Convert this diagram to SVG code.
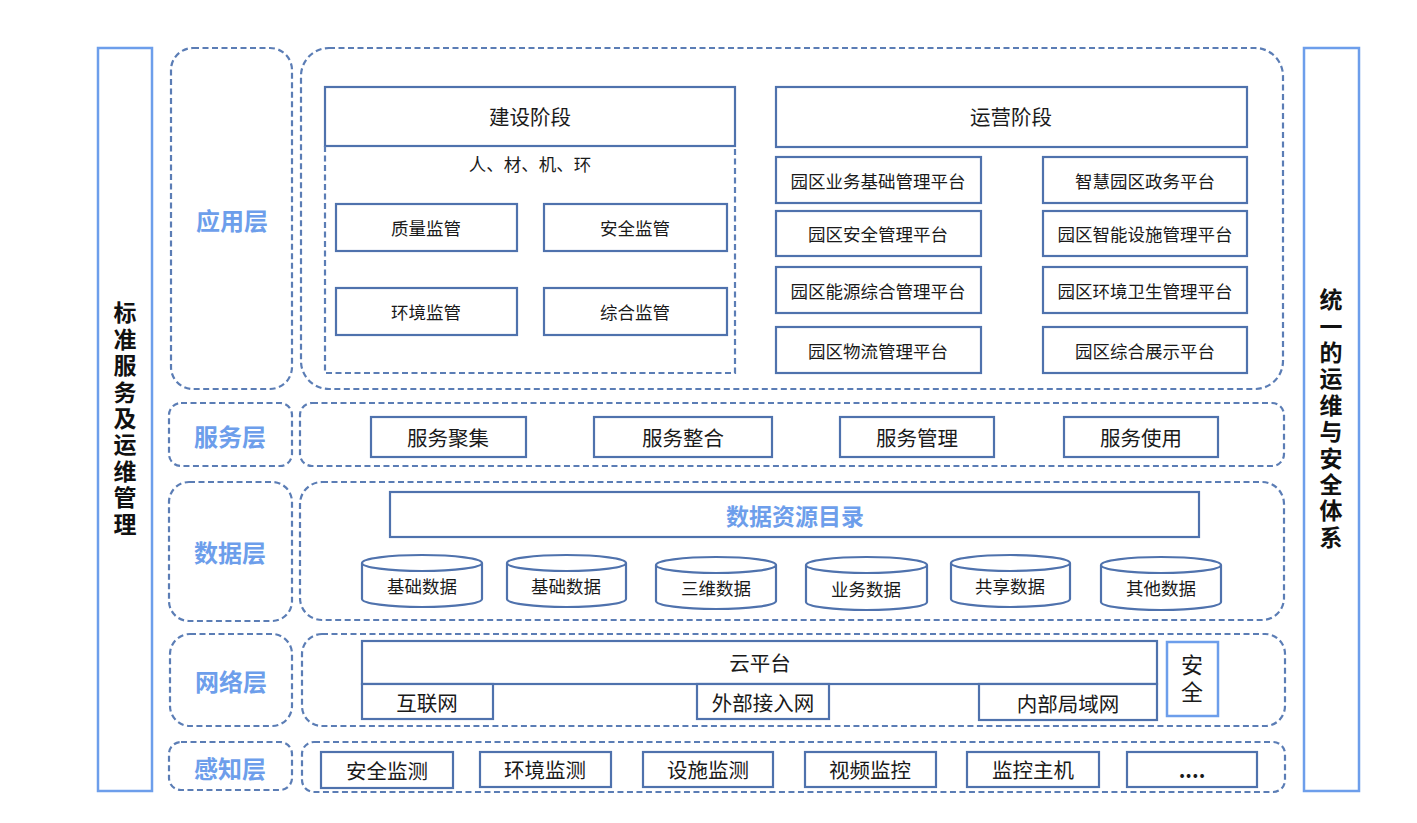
<svg xmlns="http://www.w3.org/2000/svg" width="1417" height="823" viewBox="0 0 1417 823">
<style>
.bg{fill:#ffffff}
.side{fill:#fff;stroke:#6d9eeb;stroke-width:2.5}
.dash{fill:none;stroke:#5b7db5;stroke-width:2.2;stroke-dasharray:6 3.5}
.box{fill:#fff;stroke:#4f72ad;stroke-width:2.2}
.lbox{fill:#fff;stroke:#6d9eeb;stroke-width:2.5}
.t{font-family:"Noto Sans CJK SC","Noto Sans",sans-serif;fill:#1a1a1a;text-anchor:middle;dominant-baseline:central}
.s17{font-size:17.5px}
.s20{font-size:20.5px}
.lay{font-family:"Noto Sans CJK SC","Noto Sans",sans-serif;font-size:24px;font-weight:bold;fill:#6d9eeb;text-anchor:middle;dominant-baseline:central}
.vt{font-family:"Noto Sans CJK SC","Noto Sans",sans-serif;font-size:23px;font-weight:bold;fill:#111;text-anchor:middle;writing-mode:vertical-rl;text-orientation:upright;letter-spacing:3.4px}
.vs{font-family:"Noto Sans CJK SC","Noto Sans",sans-serif;font-size:22px;fill:#1a1a1a;text-anchor:middle;writing-mode:vertical-rl;text-orientation:upright;letter-spacing:5px}
</style>
<rect class="bg" x="0" y="0" width="1417" height="823"/>

<g id="left-bar">
<rect class="side" x="98" y="48" width="54" height="743"/>
<text class="vt" x="125" y="420">标准服务及运维管理</text>
</g>

<g id="right-bar">
<rect class="side" x="1304" y="48" width="55" height="743"/>
<text class="vt" x="1331" y="420">统一的运维与安全体系</text>
</g>

<g id="layer-app">
<rect class="dash" x="171" y="48" width="121" height="341" rx="22"/>
<text class="lay" x="232" y="219">应用层</text>
</g>
<g id="layer-service">
<rect class="dash" x="169" y="403" width="123" height="63" rx="12"/>
<text class="lay" x="230" y="435">服务层</text>
</g>
<g id="layer-data">
<rect class="dash" x="169" y="482" width="123" height="139" rx="20"/>
<text class="lay" x="230" y="551">数据层</text>
</g>
<g id="layer-network">
<rect class="dash" x="170" y="634" width="122" height="92" rx="20"/>
<text class="lay" x="231" y="680">网络层</text>
</g>
<g id="layer-sense">
<rect class="dash" x="169" y="742" width="123" height="48" rx="12"/>
<text class="lay" x="230" y="767">感知层</text>
</g>

<g id="app-content">
<rect class="dash" x="301" y="48" width="982" height="341" rx="28"/>
</g>

<g id="construction">
<rect class="box" x="325" y="87" width="410" height="59"/>
<text class="t s20" x="530" y="116">建设阶段</text>
<path class="dash" d="M325 146 V373 H735 V146"/>
<text class="t s17" x="530" y="163">人、材、机、环</text>
</g>
<g id="quality"><rect class="box" x="336" y="204" width="181" height="47"/><text class="t s17" x="426" y="227">质量监管</text></g>
<g id="safety"><rect class="box" x="544" y="204" width="183" height="47"/><text class="t s17" x="635" y="227">安全监管</text></g>
<g id="environment"><rect class="box" x="336" y="288" width="181" height="47"/><text class="t s17" x="426" y="311">环境监管</text></g>
<g id="comprehensive"><rect class="box" x="544" y="288" width="183" height="47"/><text class="t s17" x="635" y="311">综合监管</text></g>

<g id="operation"><rect class="box" x="776" y="87" width="471" height="60"/><text class="t s20" x="1011" y="116">运营阶段</text></g>
<g id="p1"><rect class="box" x="776" y="157" width="205" height="46"/><text class="t s17" x="878" y="180">园区业务基础管理平台</text></g>
<g id="p2"><rect class="box" x="776" y="211" width="205" height="45"/><text class="t s17" x="878" y="233">园区安全管理平台</text></g>
<g id="p3"><rect class="box" x="776" y="267" width="205" height="46"/><text class="t s17" x="878" y="290">园区能源综合管理平台</text></g>
<g id="p4"><rect class="box" x="776" y="327" width="205" height="46"/><text class="t s17" x="878" y="350">园区物流管理平台</text></g>
<g id="p5"><rect class="box" x="1043" y="157" width="204" height="46"/><text class="t s17" x="1145" y="180">智慧园区政务平台</text></g>
<g id="p6"><rect class="box" x="1043" y="211" width="204" height="45"/><text class="t s17" x="1145" y="233">园区智能设施管理平台</text></g>
<g id="p7"><rect class="box" x="1043" y="267" width="204" height="46"/><text class="t s17" x="1145" y="290">园区环境卫生管理平台</text></g>
<g id="p8"><rect class="box" x="1043" y="327" width="204" height="46"/><text class="t s17" x="1145" y="350">园区综合展示平台</text></g>

<g id="service-content"><rect class="dash" x="300" y="403" width="984" height="63" rx="12"/></g>
<g id="s1"><rect class="box" x="371" y="417" width="155" height="40"/><text class="t s20" x="448" y="437">服务聚集</text></g>
<g id="s2"><rect class="box" x="594" y="417" width="178" height="40"/><text class="t s20" x="683" y="437">服务整合</text></g>
<g id="s3"><rect class="box" x="840" y="417" width="154" height="40"/><text class="t s20" x="917" y="437">服务管理</text></g>
<g id="s4"><rect class="box" x="1064" y="417" width="154" height="40"/><text class="t s20" x="1141" y="437">服务使用</text></g>

<g id="data-content"><rect class="dash" x="300" y="482" width="984" height="138" rx="22"/></g>
<g id="catalog"><rect class="box" x="390" y="492" width="809" height="45"/><text x="795" y="515" style="font-family:'Noto Sans CJK SC',sans-serif;font-size:23px;font-weight:bold;fill:#6d9eeb;text-anchor:middle;dominant-baseline:central">数据资源目录</text></g>
<g id="d1"><path class="box" d="M362 563 V599 A60 8 0 0 0 482 599 V563 A60 8 0 0 0 362 563 Z M362 563 A60 8 0 0 0 482 563"/><text class="t s17" x="422" y="585">基础数据</text></g>
<g id="d2"><path class="box" d="M507 563 V599 A59.5 8 0 0 0 626 599 V563 A59.5 8 0 0 0 507 563 Z M507 563 A59.5 8 0 0 0 626 563"/><text class="t s17" x="566" y="585">基础数据</text></g>
<g id="d3"><path class="box" d="M656 565 V601 A60 8 0 0 0 776 601 V565 A60 8 0 0 0 656 565 Z M656 565 A60 8 0 0 0 776 565"/><text class="t s17" x="716" y="587">三维数据</text></g>
<g id="d4"><path class="box" d="M806 565 V602 A60.5 8 0 0 0 927 602 V565 A60.5 8 0 0 0 806 565 Z M806 565 A60.5 8 0 0 0 927 565"/><text class="t s17" x="866" y="588">业务数据</text></g>
<g id="d5"><path class="box" d="M951 563 V599 A59.5 8 0 0 0 1070 599 V563 A59.5 8 0 0 0 951 563 Z M951 563 A59.5 8 0 0 0 1070 563"/><text class="t s17" x="1010" y="585">共享数据</text></g>
<g id="d6"><path class="box" d="M1101 565 V602 A60 8 0 0 0 1221 602 V565 A60 8 0 0 0 1101 565 Z M1101 565 A60 8 0 0 0 1221 565"/><text class="t s17" x="1161" y="587">其他数据</text></g>

<g id="network-content"><rect class="dash" x="302" y="634" width="983" height="92" rx="20"/></g>
<g id="cloud"><rect class="box" x="362" y="641" width="795" height="43"/><text class="t s20" x="760" y="662">云平台</text></g>
<g id="internet"><rect class="box" x="362" y="684" width="131" height="35"/><text class="t s20" x="427" y="702">互联网</text></g>
<g id="external"><rect class="box" x="697" y="684" width="132" height="35"/><text class="t s20" x="763" y="702">外部接入网</text></g>
<g id="lan"><rect class="box" x="979" y="684" width="178" height="36"/><text class="t s20" x="1068" y="703">内部局域网</text></g>
<g id="security"><rect class="lbox" x="1167" y="642" width="51" height="74"/><text class="vs" x="1192" y="681">安全</text></g>

<g id="sense-content"><rect class="dash" x="302" y="742" width="983" height="50" rx="12"/></g>
<g id="m1"><rect class="box" x="321" y="752" width="132" height="36"/><text class="t s20" x="387" y="770">安全监测</text></g>
<g id="m2"><rect class="box" x="480" y="752" width="131" height="35"/><text class="t s20" x="545" y="769">环境监测</text></g>
<g id="m3"><rect class="box" x="643" y="752" width="130" height="35"/><text class="t s20" x="708" y="769">设施监测</text></g>
<g id="m4"><rect class="box" x="805" y="752" width="131" height="35"/><text class="t s20" x="870" y="769">视频监控</text></g>
<g id="m5"><rect class="box" x="967" y="752" width="132" height="35"/><text class="t s20" x="1033" y="769">监控主机</text></g>
<g id="m6"><rect class="box" x="1127" y="752" width="130" height="35"/><text class="t s20" x="1192" y="769" style="font-weight:bold">....</text></g>

<g id="connectors"></g>
</svg>
